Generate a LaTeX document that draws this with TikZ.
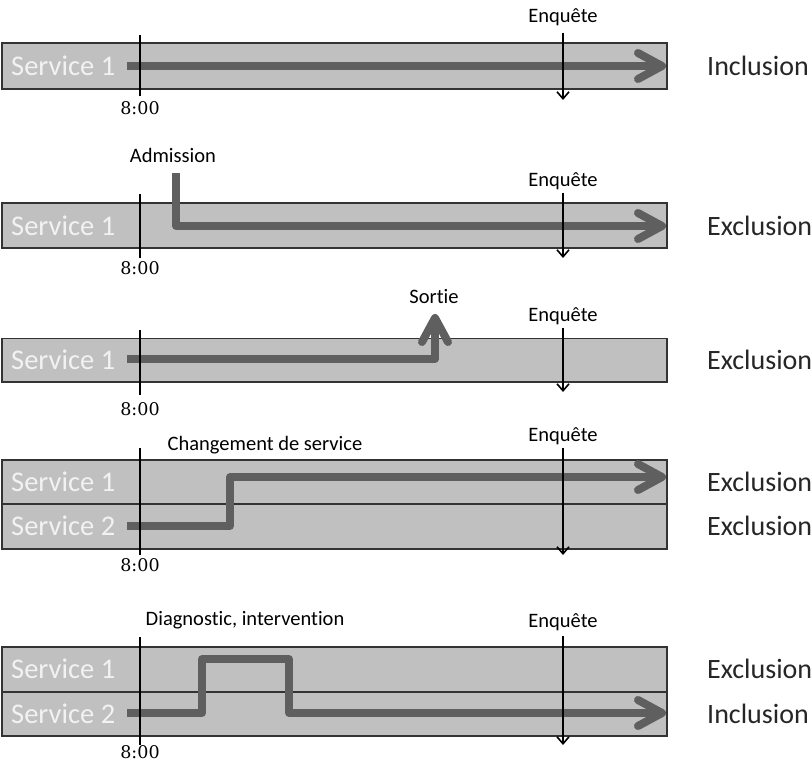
\documentclass[tikz,border=0pt]{standalone}
\usepackage{fontspec}
\setmainfont{Carlito}[Ligatures=NoCommon]
\newfontfamily\timefont{DejaVu Serif}
\usetikzlibrary{arrows.meta,calc}
\definecolor{bandgray}{HTML}{C0C0C0}
\definecolor{flowgray}{HTML}{5F5F5F}
\definecolor{svctext}{HTML}{F2F2F2}
\tikzset{
  band/.style={fill=bandgray, draw=black!80, line width=1.5pt},
  divider/.style={draw=black!80, line width=1.2pt},
  svc/.style={anchor=west, text=svctext, font=\fontsize{28.5}{28.5}\selectfont, inner sep=0pt},
  verdict/.style={anchor=west, text=black!85, font=\fontsize{28}{28}\selectfont, inner sep=0pt},
  toplabel/.style={text=black, font=\fontsize{20.5}{20.5}\selectfont, inner sep=0pt},
  timelabel/.style={text=black, font=\timefont\fontsize{17.5}{17.5}\selectfont, inner sep=0pt},
  timeline/.style={draw=black, line width=2pt},
  survey/.style={draw=black, line width=2pt, -{Straight Barb[length=7pt,width=12pt,line width=1.6pt]}},
  flow/.style={draw=flowgray, line width=7.5pt, line cap=butt, line join=round},
  flowhead/.style={draw=flowgray, line width=8pt, line cap=round, line join=round},
}
\begin{document}
\begin{tikzpicture}[x=1pt, y=-1pt]
\useasboundingbox (0,0) rectangle (812,762);

% ---------- Panel 1 ----------
\draw[band] (2,43) rectangle (667,89);
\node[svc] (p1s1) at (11,66) {Service 1};
\node[verdict] (p1v) at (707,66) {Inclusion};
\coordinate (p1a) at (127,66);
\coordinate (p1t) at (662,66);
\draw[flow] (p1a) -- ($(p1t)+(-2,0)$);
\draw[flowhead] ($(p1t)+(-24,-13)$) -- (p1t) -- ($(p1t)+(-24,13)$);
\coordinate (p1l0) at (140,35); \coordinate (p1l1) at (140,96);
\draw[timeline] (p1l0) -- (p1l1);
\node[timelabel] (p1h) at (140,108) {8:00};
\node[toplabel] (p1e) at (563,17) {Enquête};
\coordinate (p1e0) at (563,33); \coordinate (p1e1) at (563,100);
\draw[survey] (p1e0) -- (p1e1);

% ---------- Panel 2 ----------
\draw[band] (2,203) rectangle (667,248);
\node[svc] (p2s1) at (11,225.5) {Service 1};
\node[verdict] (p2v) at (707,225.5) {Exclusion};
\node[toplabel] (p2adm) at (173,155) {Admission};
\coordinate (p2a) at (176,173);
\coordinate (p2b) at (176,226);
\coordinate (p2t) at (662,226);
\draw[flow] (p2a) -- (p2b) -- ($(p2t)+(-2,0)$);
\draw[flowhead] ($(p2t)+(-24,-13)$) -- (p2t) -- ($(p2t)+(-24,13)$);
\coordinate (p2l0) at (140,194); \coordinate (p2l1) at (140,258);
\draw[timeline] (p2l0) -- (p2l1);
\node[timelabel] (p2h) at (140,268) {8:00};
\node[toplabel] (p2e) at (563,181) {Enquête};
\coordinate (p2e0) at (563,193); \coordinate (p2e1) at (563,258);
\draw[survey] (p2e0) -- (p2e1);

% ---------- Panel 3 ----------
\draw[band] (2,338.5) rectangle (667,382);
\node[svc] (p3s1) at (11,360) {Service 1};
\node[verdict] (p3v) at (707,360) {Exclusion};
\node[toplabel] (p3out) at (434,297) {Sortie};
\coordinate (p3a) at (127,359);
\coordinate (p3b) at (435,359);
\coordinate (p3t) at (435,318);
\draw[flow] (p3a) -- (p3b) -- ($(p3t)+(0,2)$);
\draw[flowhead] ($(p3t)+(-13,24)$) -- (p3t) -- ($(p3t)+(13,24)$);
\coordinate (p3l0) at (140,330); \coordinate (p3l1) at (140,395);
\draw[timeline] (p3l0) -- (p3l1);
\node[timelabel] (p3h) at (140,409) {8:00};
\node[toplabel] (p3e) at (563,316) {Enquête};
\coordinate (p3e0) at (563,328); \coordinate (p3e1) at (563,392);
\draw[survey] (p3e0) -- (p3e1);

% ---------- Panel 4 ----------
\draw[band] (2,460) rectangle (667,549);
\draw[divider] (2,504) -- (667,504);
\node[svc] (p4s1) at (11,482) {Service 1};
\node[svc] (p4s2) at (11,526) {Service 2};
\node[verdict] (p4v1) at (707,482) {Exclusion};
\node[verdict] (p4v2) at (707,526) {Exclusion};
\node[toplabel] (p4chg) at (265,445) {Changement de service};
\coordinate (p4a) at (127,526);
\coordinate (p4b) at (230,526);
\coordinate (p4c) at (230,477);
\coordinate (p4t) at (662,477);
\draw[flow] (p4a) -- (p4b) -- (p4c) -- ($(p4t)+(-2,0)$);
\draw[flowhead] ($(p4t)+(-24,-13)$) -- (p4t) -- ($(p4t)+(-24,13)$);
\coordinate (p4l0) at (140,448); \coordinate (p4l1) at (140,555);
\draw[timeline] (p4l0) -- (p4l1);
\node[timelabel] (p4h) at (140,565) {8:00};
\node[toplabel] (p4e) at (563,436) {Enquête};
\coordinate (p4e0) at (563,448); \coordinate (p4e1) at (563,555);
\draw[survey] (p4e0) -- (p4e1);

% ---------- Panel 5 ----------
\draw[band] (2,647) rectangle (667,736);
\draw[divider] (2,692) -- (667,692);
\node[svc] (p5s1) at (11,669) {Service 1};
\node[svc] (p5s2) at (11,714) {Service 2};
\node[verdict] (p5v1) at (707,669) {Exclusion};
\node[verdict] (p5v2) at (707,714) {Inclusion};
\node[toplabel] (p5diag) at (245,620) {Diagnostic, intervention};
\coordinate (p5a) at (127,713);
\coordinate (p5b) at (202,713);
\coordinate (p5c) at (202,659);
\coordinate (p5d) at (289,659);
\coordinate (p5e) at (289,713);
\coordinate (p5t) at (662,713);
\draw[flow] (p5a) -- (p5b) -- (p5c) -- (p5d) -- (p5e) -- ($(p5t)+(-2,0)$);
\draw[flowhead] ($(p5t)+(-24,-13)$) -- (p5t) -- ($(p5t)+(-24,13)$);
\coordinate (p5l0) at (140,637); \coordinate (p5l1) at (140,745);
\draw[timeline] (p5l0) -- (p5l1);
\node[timelabel] (p5h) at (140,752) {8:00};
\node[toplabel] (p5en) at (563,622) {Enquête};
\coordinate (p5e0) at (563,636); \coordinate (p5e1) at (563,745);
\draw[survey] (p5e0) -- (p5e1);
\end{tikzpicture}
\end{document}
